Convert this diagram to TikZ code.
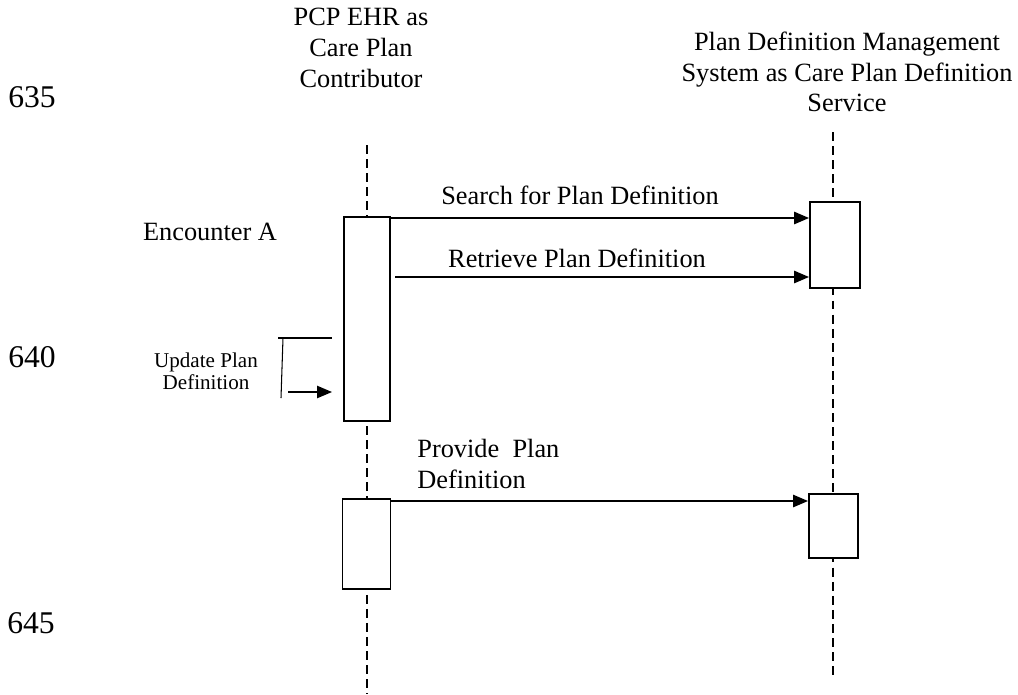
\documentclass[tikz,border=0pt]{standalone}
\usepackage{fontspec}
\setmainfont{Liberation Serif}
\usetikzlibrary{arrows.meta}
\tikzstyle{actbar} = [rectangle, draw=black, fill=white, line width=1.1pt, inner sep=0pt]
\tikzstyle{lifeline} = [line width=1pt, dash pattern=on 5pt off 3pt]
\tikzstyle{arrow} = [line width=1pt,-{Triangle[length=8.5pt,width=7pt]}]
\tikzstyle{thin} = [line width=0.6pt]
\tikzstyle{label} = [font=\fontsize{15}{17.5}\selectfont, inner sep=0pt]
\tikzstyle{linenum} = [font=\fontsize{18}{20}\selectfont, inner sep=0pt]

\begin{document}
\begin{tikzpicture}[x=0.02cm, y=-0.02cm]
\useasboundingbox (0,0) rectangle (1018,694);

% line numbers
\node (ln635) [linenum] at (32,97) {635};
\node (ln640) [linenum] at (32,357) {640};
\node (ln645) [linenum] at (31,623) {645};

% participants
\node (pcp) [label, align=center] at (361,48) {PCP EHR as\\Care Plan\\Contributor};
\node (pdms) [label, align=center] at (847,72) {Plan Definition Management\\System as Care Plan Definition\\Service};

% lifelines
\coordinate (llAtop) at (367,145);
\coordinate (llAbot) at (367,694);
\coordinate (llBtop) at (833,132);
\coordinate (llBbot) at (833,680);
\draw [lifeline] (llAtop) -- (llAbot);
\draw [lifeline] (llBtop) -- (llBbot);

% activation bars
\node (actA) [actbar, minimum width=0.92cm, minimum height=4.08cm] at (367,319) {};
\node (actB) [actbar, minimum width=1cm, minimum height=1.72cm] at (835,245) {};
\node (actC) [actbar, minimum width=0.96cm, minimum height=1.8cm] at (366.5,544) {};
\node (actD) [actbar, minimum width=0.98cm, minimum height=1.28cm] at (833.5,526) {};

\node (enc) [label] at (210,232) {Encounter A};

% messages
\coordinate (searchS) at (390,218);
\coordinate (retS) at (395,277);
\coordinate (provS) at (391,501);
\draw [arrow] (searchS) -- (searchS -| actB.west);
\draw [arrow] (retS) -- (retS -| actB.west);
\draw [arrow] (provS) -- (provS -| actD.west);
\node (search) [label] at (580,195) {Search for Plan Definition};
\node (retrieve) [label] at (577,258) {Retrieve Plan Definition};
\node (provide) [label, align=left, anchor=west] at (417,464) {Provide\ \ Plan\\Definition};

% self message
\coordinate (upd0) at (278,338);
\coordinate (upd1) at (332,338);
\coordinate (upd2) at (283,338);
\coordinate (upd3) at (281,398);
\coordinate (upd4) at (288,392);
\coordinate (upd5) at (332,392);
\draw [thin] (upd0) -- (upd1);
\draw [thin] (upd2) -- (upd3);
\draw [arrow, line width=0.8pt] (upd4) -- (upd5);
\node (update) [font=\fontsize{12}{12.5}\selectfont, align=center, inner sep=0pt] at (206,371) {Update Plan\\Definition};
\end{tikzpicture}
\end{document}
